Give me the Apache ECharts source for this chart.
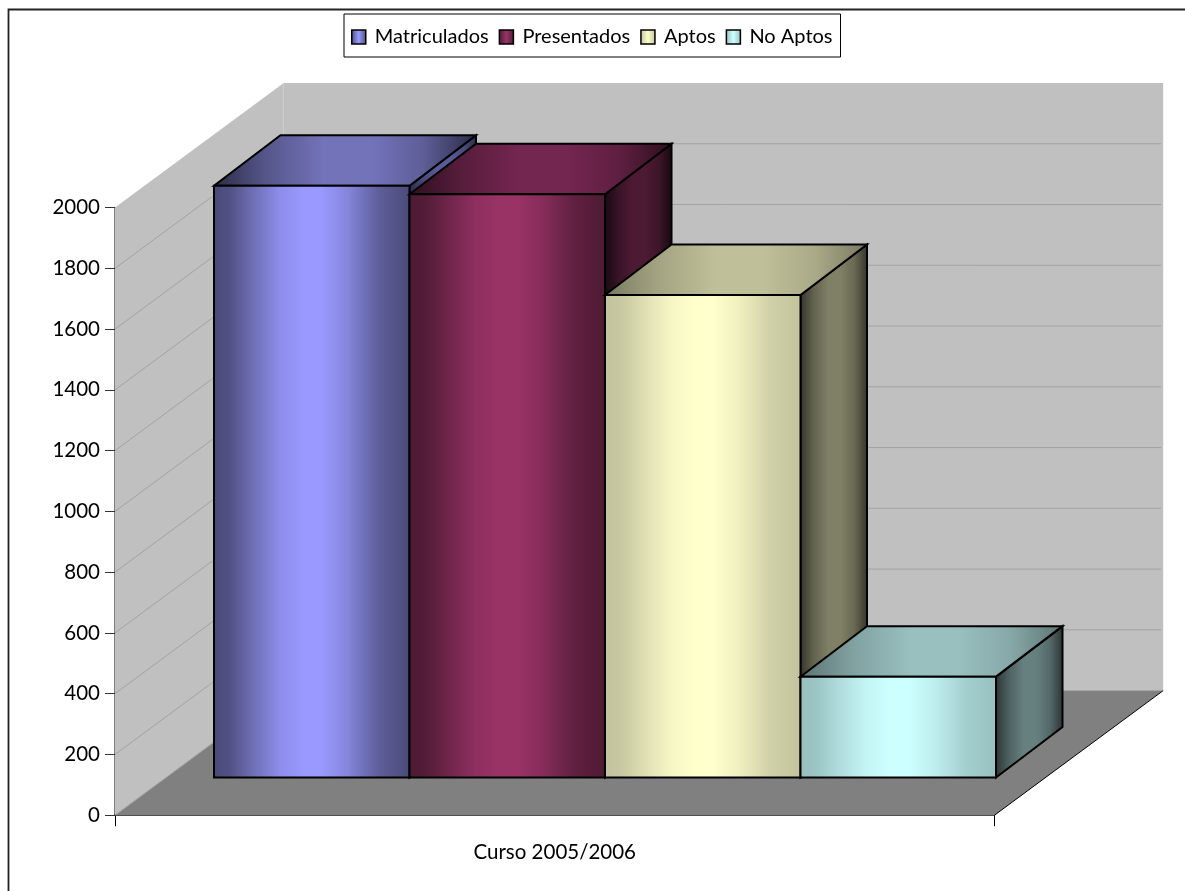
<!DOCTYPE html>
<html><head><meta charset="utf-8">
<style>html,body{margin:0;padding:0;background:#fff}#c{width:1185px;height:891px}</style>
<script src="https://cdn.jsdelivr.net/npm/echarts@6/dist/echarts.min.js"></script>
</head><body><div id="c"></div>
<script>
const categories = ['Curso 2005/2006'];
const seriesNames = ['Matriculados', 'Presentados', 'Aptos', 'No Aptos'];
const matriculados = [1948];
const presentados = [1920];
const aptos = [1588];
const noAptos = [332];
const yTicks = [0, 200, 400, 600, 800, 1000, 1200, 1400, 1600, 1800, 2000];

// front centre, front edge, top centre, top edge, side centre, side edge
const palettes = [
  ['#9999FF', '#4A4A78', '#7373BA', '#2B2B45', '#5A5A98', '#2A2A48'],
  ['#993366', '#4D1A33', '#732650', '#2D0F1E', '#4D1A33', '#170810'],
  ['#FFFFCC', '#C2C29C', '#BFBF99', '#787860', '#808066', '#333329'],
  ['#CCFFFF', '#97BFBF', '#99BFBF', '#5C7373', '#668080', '#293333']
];
const floorDepth = [168.7, -124.6];   // depth of chart box in px
const barInset = [50, -37.7];         // bar front offset from chart front
const barDepth = [66.5, -50.5];
const barSlot = 195.5, barStart = 99; // bar width, start from axis

const hex = c => [1, 3, 5].map(i => parseInt(c.substr(i, 2), 16));
const mix = (a, b, t) => { const A = hex(a), B = hex(b);
  return 'rgb(' + A.map((v, i) => Math.round(v + (B[i] - v) * t)).join(',') + ')'; };
const grad = (edge, mid, stops) => ({ type: 'linear', x: 0, y: 0, x2: 1, y2: 0,
  colorStops: stops.map(s => ({ offset: s[0], color: mix(edge, mid, s[1]) })) });
const frontStops = [[0, 0], [0.08, 0.08], [0.2, 0.45], [0.34, 0.85], [0.46, 1], [0.55, 1], [0.68, 0.75], [0.84, 0.25], [1, 0]];
const softStops = [[0, 0], [0.2, 0.6], [0.42, 1], [0.6, 1], [0.8, 0.7], [1, 0]];

function poly(pts, fill, stroke, lw) {
  return { type: 'polygon', shape: { points: pts },
    style: { fill, stroke: stroke || 'none', lineWidth: lw || 0, lineJoin: 'miter' } };
}
function wallsItem(params, api) {
  const base = api.coord([0, 0])[1];
  const top = api.coord([0, 2000])[1];
  const L = params.coordSys.x, R = params.coordSys.x + params.coordSys.width;
  const [dx, dy] = floorDepth;
  const ch = [
    poly([[L, base], [L + dx, base + dy], [L + dx, top + dy], [L, top]], '#C0C0C0'),
    poly([[L + dx, base + dy], [R + dx, base + dy], [R + dx, top + dy], [L + dx, top + dy]], '#C0C0C0'),
    poly([[L, base], [R, base], [R + dx, base + dy], [L + dx, base + dy]], '#808080')
  ];
  yTicks.forEach(v => {
    if (v === 2000) return;
    const y = api.coord([0, v])[1];
    ch.push({ type: 'polyline', shape: { points: [[L, y], [L + dx, y + dy], [R + dx - 2, y + dy]] },
      style: { fill: 'none', stroke: '#A3A3A3', lineWidth: 1 } });
  });
  ch.push({ type: 'line', shape: { x1: R, y1: base, x2: R + dx, y2: base + dy },
    style: { stroke: '#000', lineWidth: 1 } });
  return { type: 'group', children: ch };
}
function barItem(idx) {
  return function (params, api) {
    const y0 = api.coord([0, 0])[1], y1 = api.coord([0, api.value(1)])[1];
    const bx = params.coordSys.x + barStart + idx * barSlot;
    const w = barSlot;
    const bb = y0 + barInset[1], bt = y1 + barInset[1];
    const [dx, dy] = barDepth;
    const p = palettes[idx];
    const lw = 2;
    return { type: 'group', children: [
      poly([[bx + w, bb], [bx + w + dx, bb + dy], [bx + w + dx, bt + dy], [bx + w, bt]], grad(p[5], p[4], softStops), '#000', lw),
      poly([[bx, bt], [bx + w, bt], [bx + w + dx, bt + dy], [bx + dx, bt + dy]], grad(p[3], p[2], softStops), '#000', lw),
      poly([[bx, bb], [bx + w, bb], [bx + w, bt], [bx, bt]], grad(p[1], p[0], frontStops), '#000', lw)
    ] };
  };
}
const barValues = [matriculados, presentados, aptos, noAptos];
const swatchStops = [[0, 0], [0.5, 1], [1, 0]];
const fontFam = 'Lato, "Open Sans", sans-serif';
const option = {
  animation: false,
  backgroundColor: '#fff',
  legend: {
    data: seriesNames, left: 344, top: 14, icon: 'rect', orient: 'horizontal',
    itemWidth: 14, itemHeight: 14, itemGap: 10, padding: [13, 8, 10, 7],
    borderColor: '#000', borderWidth: 1, backgroundColor: '#fff', selectedMode: false,
    textStyle: { fontFamily: fontFam, fontSize: 20, color: '#000', padding: [0, 0, 0, 4] },
    itemStyle: { borderColor: '#000', borderWidth: 1.5 }
  },
  grid: { left: 115, top: 207.6, width: 879.5, height: 607.6, containLabel: false },
  xAxis: { type: 'category', data: categories,
    axisLine: { show: true, lineStyle: { color: '#000', width: 1.5 } },
    axisTick: { show: true, length: 11, alignWithLabel: false, lineStyle: { color: '#000', width: 1 } },
    axisLabel: { fontFamily: fontFam, fontSize: 20.5, color: '#000', margin: 27 } },
  yAxis: { type: 'value', min: 0, max: 2000, interval: 200,
    axisLine: { show: true, lineStyle: { color: '#555', width: 1.5 } },
    axisTick: { show: true, length: 10, lineStyle: { color: '#333', width: 1 } },
    splitLine: { show: false },
    axisLabel: { fontFamily: fontFam, fontSize: 20.5, color: '#000', margin: 15, formatter: v => String(v) } },
  graphic: [{ type: 'polyline', silent: true, z: -1,
    shape: { points: [[8.5, 891], [8.5, 9.5], [1185, 9.5]] },
    style: { fill: 'none', stroke: '#222', lineWidth: 1.8 } }],
  series: [
    { type: 'custom', name: 'walls', coordinateSystem: 'cartesian2d', z: 1, silent: true,
      data: [[0, 0]], renderItem: wallsItem, encode: { x: 0, y: 1 } }
  ].concat(seriesNames.map((n, i) => ({
    type: 'custom', name: n, coordinateSystem: 'cartesian2d', z: 2 + i,
    itemStyle: { color: grad(palettes[i][1], palettes[i][0], swatchStops) },
    data: [[0, barValues[i][0]]], renderItem: barItem(i), encode: { x: 0, y: 1 }
  })))
};
const chart = echarts.init(document.getElementById('c'), null, { renderer: 'canvas' });
chart.setOption(option);
</script></body></html>
